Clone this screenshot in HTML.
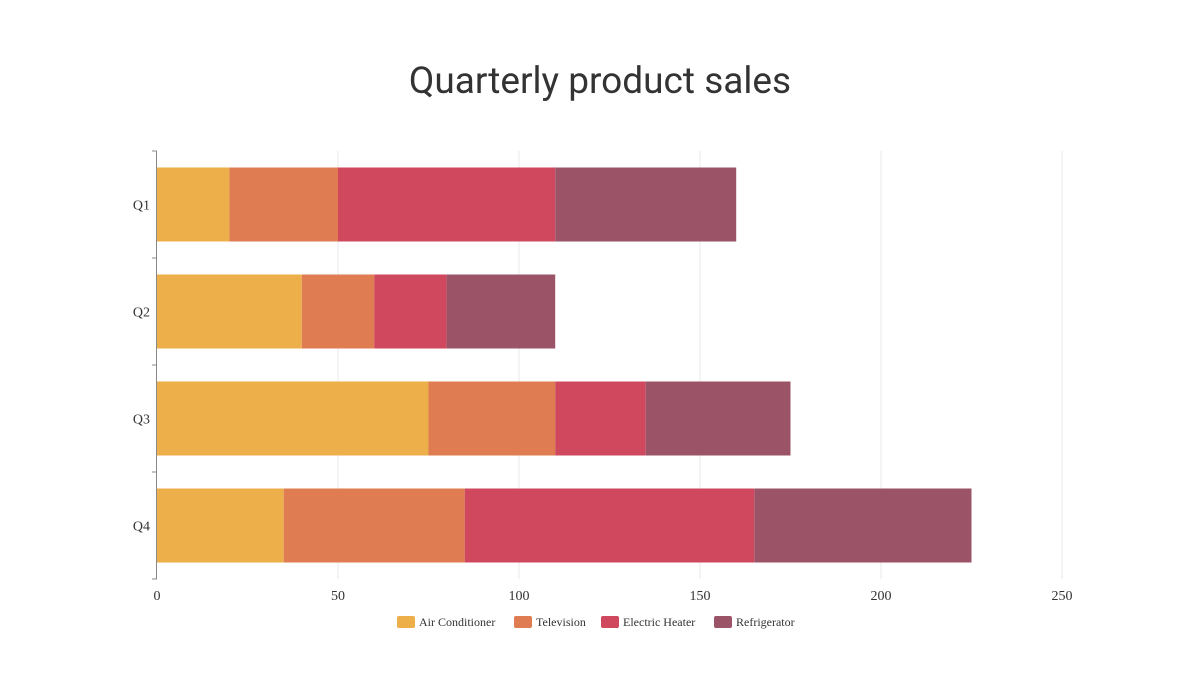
<!DOCTYPE html>
<html><head><meta charset="utf-8"><style>
body{margin:0;background:#fff;}
svg{display:block;}
</style></head><body>
<svg id="chart" width="1200" height="675">
<text x="600" y="93" text-anchor="middle" font-family="Roboto, 'Liberation Sans', sans-serif" font-size="37" fill="#333">Quarterly product sales</text>
<g id="grid"></g><g id="bars"></g><g id="axes"></g><g id="legend"></g>
</svg>
<script>
const categories = ["Q1","Q2","Q3","Q4"];
const seriesNames = ["Air Conditioner","Television","Electric Heater","Refrigerator"];
const airConditioner = [20,40,75,35];
const television = [30,20,35,50];
const electricHeater = [60,20,25,80];
const refrigerator = [50,30,40,60];
const xTicks = [0,50,100,150,200,250];
const colors = ["#ecaf4a","#df7c52","#d0485d","#9b5367"];
const series = [airConditioner,television,electricHeater,refrigerator];
const NS="http://www.w3.org/2000/svg";
const x0=157,x1=1062,xMax=250,yTop=151,yBot=579;
const xs=v=>x0+(x1-x0)*v/xMax;
const band=(yBot-yTop)/categories.length;
const barH=74;
function mk(tag,attrs,parent){const e=document.createElementNS(NS,tag);for(const k in attrs)e.setAttribute(k,attrs[k]);parent.appendChild(e);return e;}
const grid=document.getElementById('grid'),bars=document.getElementById('bars'),axes=document.getElementById('axes'),legend=document.getElementById('legend');
xTicks.forEach(t=>{
  if(t>0){const l=mk('line',{x1:xs(t),x2:xs(t),y1:yTop,y2:yBot,stroke:'#e8e8e8','stroke-width':1},grid);
  
  }
  const tx=mk('text',{x:xs(t),y:600,'text-anchor':'middle','font-family':'Liberation Serif, serif','font-size':14,fill:'#333'},axes);
  tx.textContent=t;
  
  
});
categories.forEach((c,i)=>{
  const cy=yTop+band*(i+0.5);
  let acc=0;
  series.forEach((s,j)=>{
    const r=mk('rect',{x:xs(acc),y:cy-barH/2,width:xs(acc+s[i])-xs(acc),height:barH,fill:colors[j]},bars);
    
    
    acc+=s[i];
  });
  const tx=mk('text',{x:150,y:cy+5,'text-anchor':'end','font-family':'Liberation Serif, serif','font-size':14,fill:'#333'},axes);
  tx.textContent=c;
  
  
});
const ax=mk('line',{x1:x0-0.5,x2:x0-0.5,y1:yTop,y2:yBot,stroke:'#888','stroke-width':1},axes);


for(let i=0;i<=categories.length;i++){
  const y=yTop+band*i;
  const tk=mk('line',{x1:x0-5,x2:x0,y1:y,y2:y,stroke:'#888','stroke-width':1},axes);
  
  
}
const lx=[397,514,601,714];
seriesNames.forEach((n,j)=>{
  const g=mk('g',{},legend);
  
  
  mk('rect',{x:lx[j],y:616,width:18,height:12,rx:2,fill:colors[j]},g);
  const t=mk('text',{x:lx[j]+22,y:626,'font-family':'Liberation Serif, serif','font-size':12,fill:'#333'},g);
  t.textContent=n;
});
</script>
</body></html>
